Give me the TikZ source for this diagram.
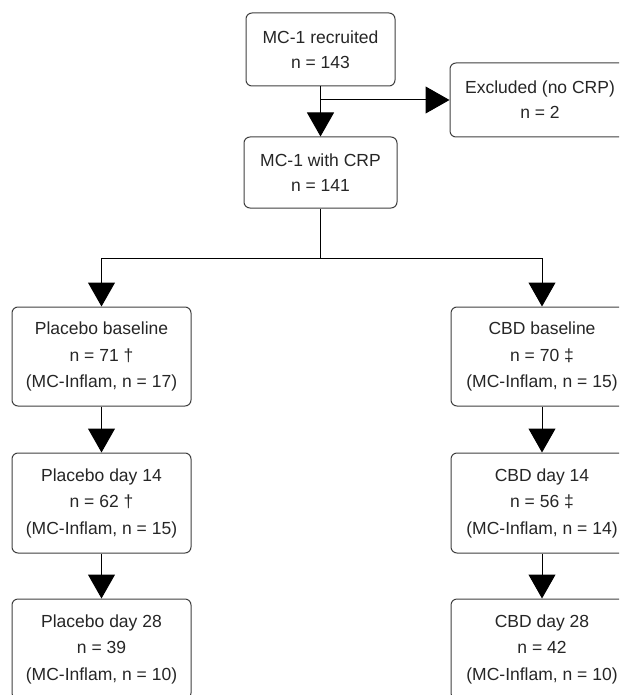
\documentclass[tikz,border=0pt]{standalone}
\usepackage{fontspec}
\setmainfont{Liberation Sans}
\usetikzlibrary{arrows.meta, positioning}

\tikzset{
  flowbox/.style={draw=black!75, line width=1pt, rounded corners=6pt, fill=white,
    align=center, inner sep=0pt, text=black!85, font=\fontsize{17.5}{25}\selectfont},
  flowarrow/.style={draw=black, line width=1pt, -{Triangle[length=24pt, width=27pt]}},
  flowline/.style={draw=black, line width=1pt}
}

\begin{document}
\begin{tikzpicture}[x=1pt, y=-1pt]
  \useasboundingbox (0,0) rectangle (619,695);
  \clip (0,0) rectangle (619,695);

  % top part
  \node[flowbox, minimum width=149pt, minimum height=73pt] (rec) at (320.5,49.5) {MC-1 recruited\\n = 143};
  \node[flowbox, minimum width=180pt, minimum height=74pt] (excl) at (540,100) {Excluded (no CRP)\\n = 2};
  \node[flowbox, minimum width=153pt, minimum height=71pt] (crp) at (320.5,172.5) {MC-1 with CRP\\n = 141};
  \draw[flowarrow] (rec) -- (crp);
  \draw[flowarrow] (rec.south |- excl.west) -- (excl.west);

  % placebo arm
  \node[flowbox, minimum width=179pt, minimum height=99pt, font=\fontsize{17.5}{26.5}\selectfont] (pbase) at (101.5,356.5) {Placebo baseline\\n = 71 †\\(MC-Inflam, n = 17)};
  \node[flowbox, minimum width=179pt, minimum height=100pt, font=\fontsize{17.5}{26.5}\selectfont] (pday14) at (101.5,503) {Placebo day 14\\n = 62 †\\(MC-Inflam, n = 15)};
  \node[flowbox, minimum width=179pt, minimum height=100pt, font=\fontsize{17.5}{26.5}\selectfont] (pday28) at (101.5,649) {Placebo day 28\\n = 39\\(MC-Inflam, n = 10)};

  % CBD arm
  \node[flowbox, minimum width=182pt, minimum height=99pt, font=\fontsize{17.5}{26.5}\selectfont] (cbase) at (542,356.5) {CBD baseline\\n = 70 ‡\\(MC-Inflam, n = 15)};
  \node[flowbox, minimum width=182pt, minimum height=100pt, font=\fontsize{17.5}{26.5}\selectfont] (cday14) at (542,503) {CBD day 14\\n = 56 ‡\\(MC-Inflam, n = 14)};
  \node[flowbox, minimum width=182pt, minimum height=100pt, font=\fontsize{17.5}{26.5}\selectfont] (cday28) at (542,649) {CBD day 28\\n = 42\\(MC-Inflam, n = 10)};

  % split into arms
  \coordinate (split) at (320.5,258);
  \draw[flowline] (crp) -- (split);
  \draw[flowarrow] (split) -| (pbase);
  \draw[flowarrow] (split) -| (cbase);
  \draw[flowarrow] (pbase) -- (pday14);
  \draw[flowarrow] (pday14) -- (pday28);
  \draw[flowarrow] (cbase) -- (cday14);
  \draw[flowarrow] (cday14) -- (cday28);
\end{tikzpicture}
\end{document}
